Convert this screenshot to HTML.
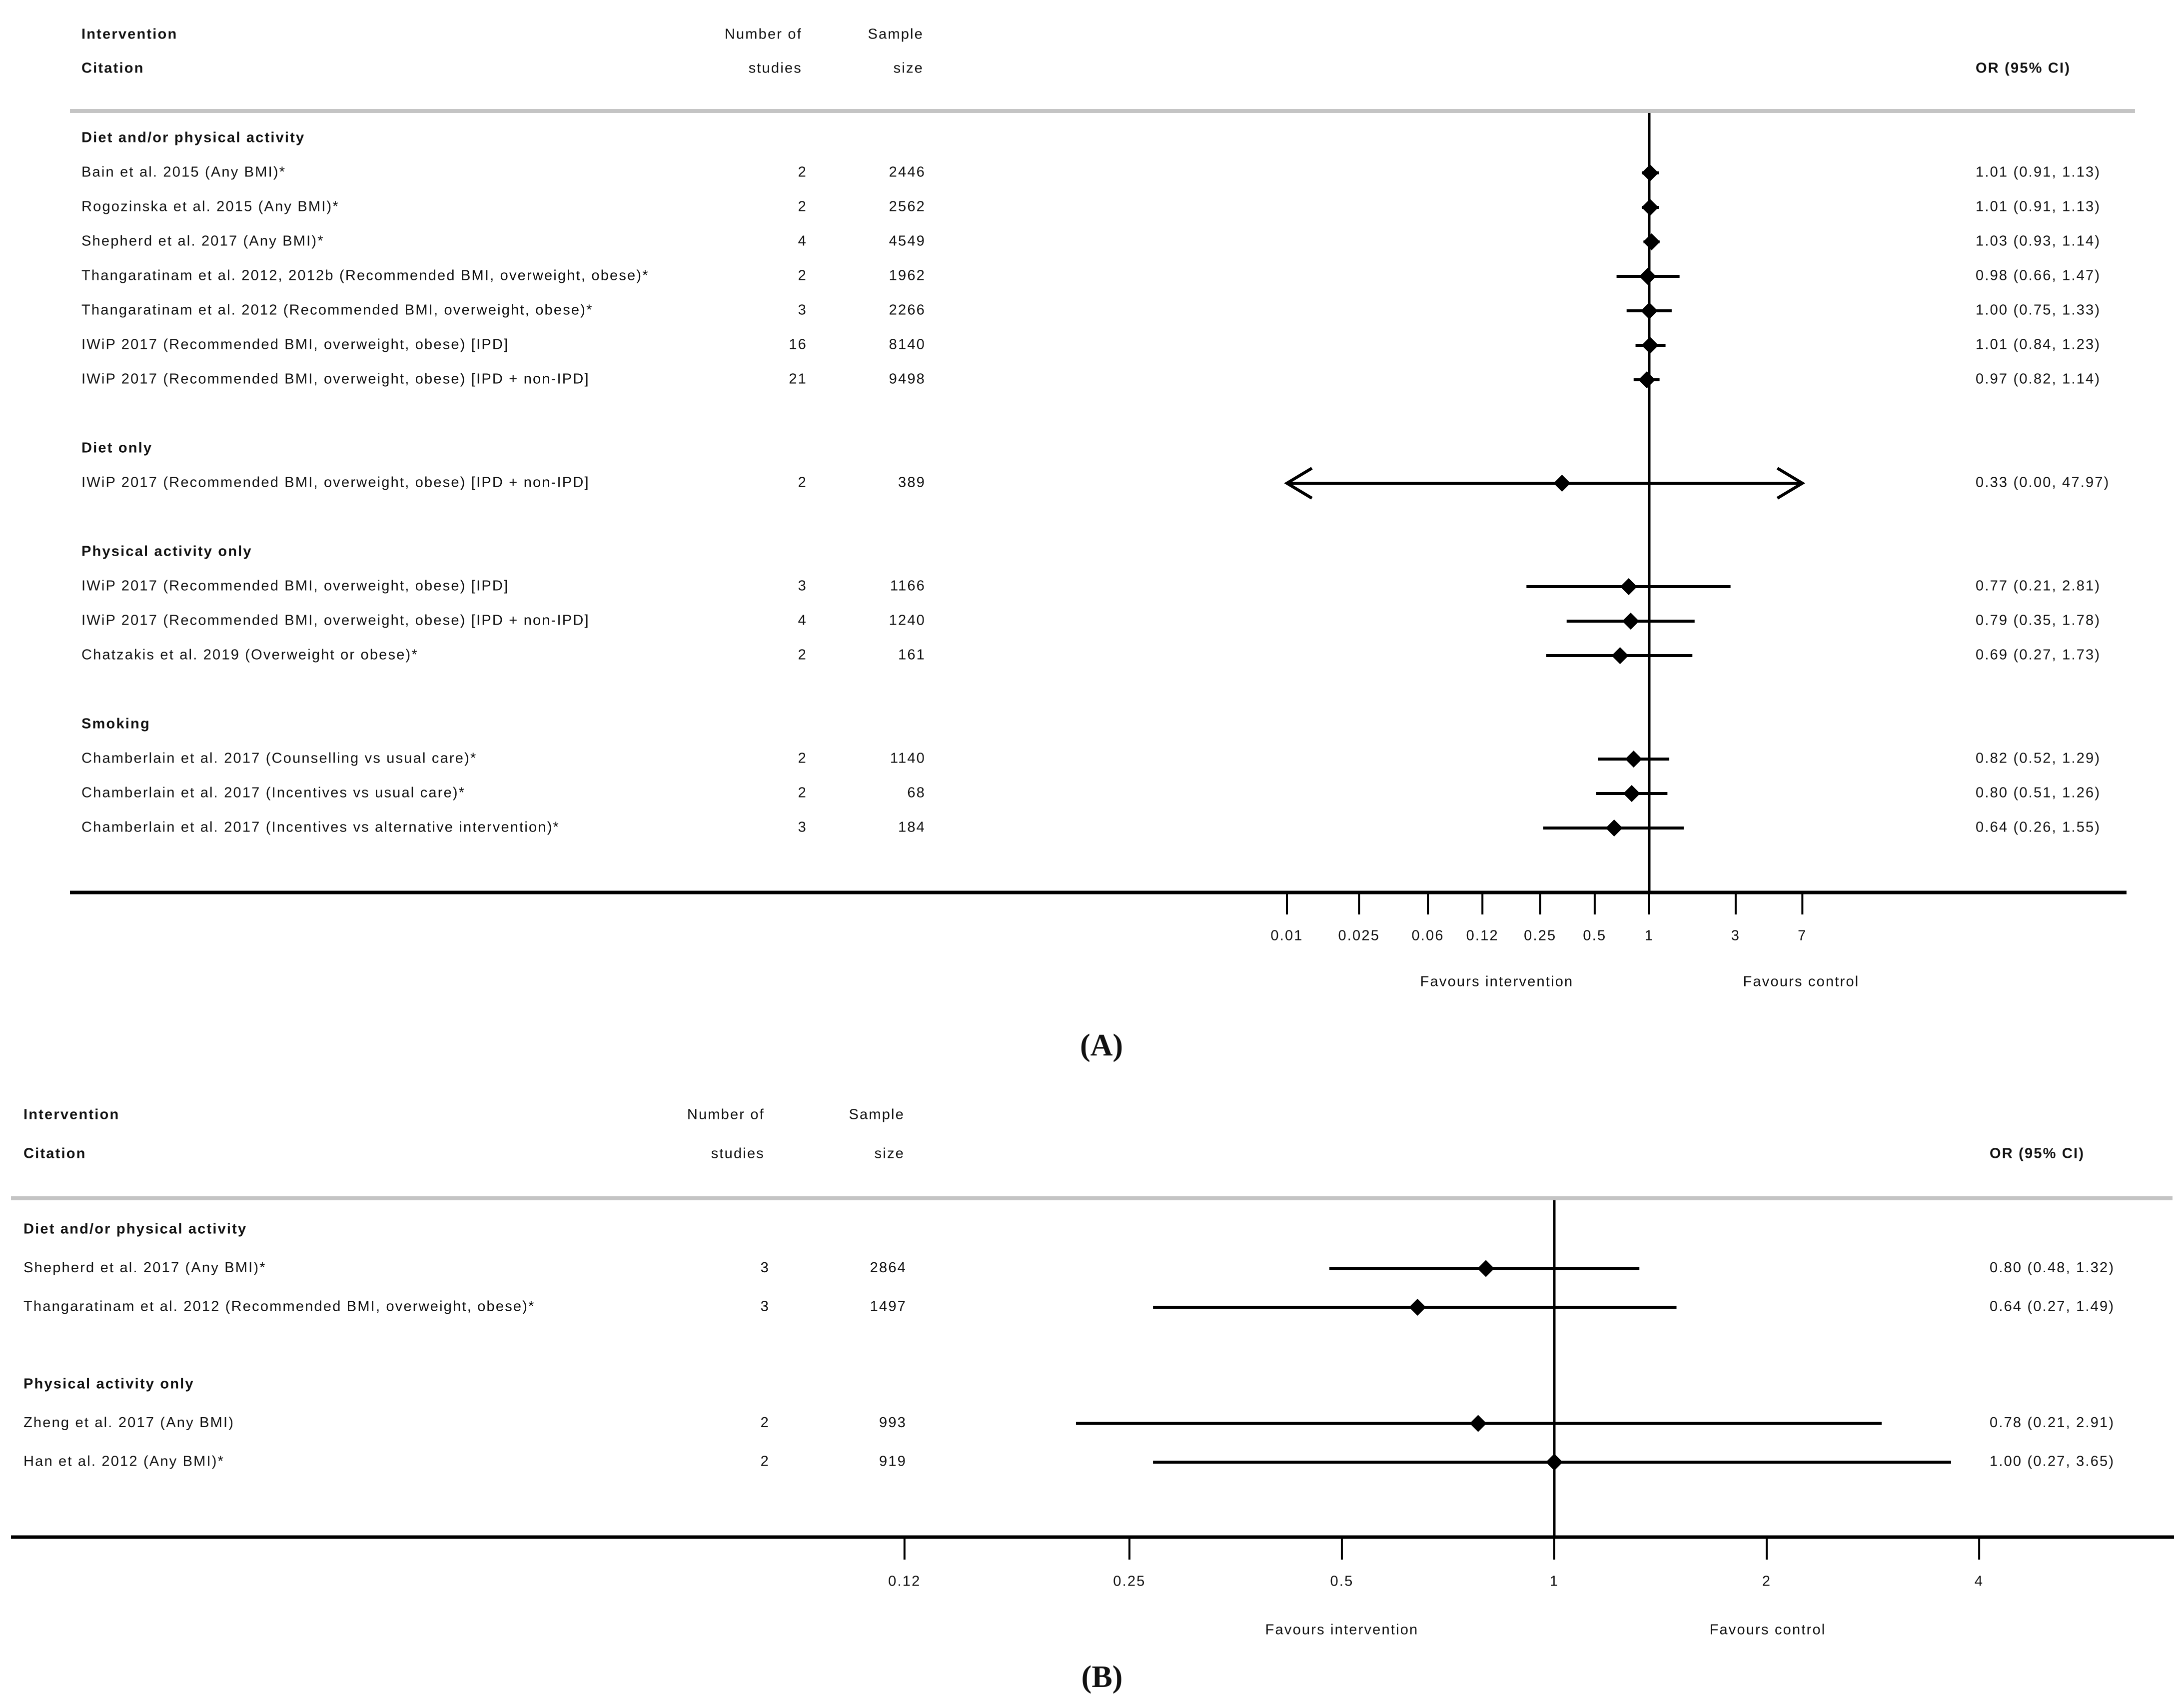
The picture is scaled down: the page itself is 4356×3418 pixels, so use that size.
<!DOCTYPE html>
<html><head><meta charset="utf-8">
<style>
html,body{margin:0;padding:0;background:#fff;}
svg{display:block;}
text{font-family:"Liberation Sans",Arial,sans-serif;font-size:29px;fill:#111;letter-spacing:2.2px;}
.b{font-weight:bold;}
</style></head>
<body>
<svg id="chart" width="4356" height="3418" viewBox="0 0 4356 3418" xmlns="http://www.w3.org/2000/svg">
<g id="gA"></g>
<g id="gB"></g>
</svg>
<script>
// ---------- Panel A data ----------
const aHeadings = ["Diet and/or physical activity","Diet only","Physical activity only","Smoking"];
const aHeadingRow = [0, 9, 12, 17];
const aRowIndex = [1,2,3,4,5,6,7,10,13,14,15,18,19,20];
const aLabels = [
 "Bain  et al. 2015 (Any BMI)*",
 "Rogozinska et al. 2015 (Any BMI)*",
 "Shepherd et al. 2017 (Any BMI)*",
 "Thangaratinam et al. 2012, 2012b (Recommended BMI, overweight, obese)*",
 "Thangaratinam et al. 2012 (Recommended BMI, overweight, obese)*",
 "IWiP 2017 (Recommended BMI, overweight, obese) [IPD]",
 "IWiP 2017 (Recommended BMI, overweight, obese) [IPD + non-IPD]",
 "IWiP 2017 (Recommended BMI, overweight, obese) [IPD + non-IPD]",
 "IWiP 2017 (Recommended BMI, overweight, obese) [IPD]",
 "IWiP 2017 (Recommended BMI, overweight, obese) [IPD + non-IPD]",
 "Chatzakis et al. 2019 (Overweight or obese)*",
 "Chamberlain et al. 2017 (Counselling vs usual care)*",
 "Chamberlain et al. 2017 (Incentives vs usual care)*",
 "Chamberlain et al. 2017 (Incentives vs alternative intervention)*"];
const aStudies = [2,2,4,2,3,16,21,2,3,4,2,2,2,3];
const aSizes = [2446,2562,4549,1962,2266,8140,9498,389,1166,1240,161,1140,68,184];
const aOR = [1.01,1.01,1.03,0.98,1.00,1.01,0.97,0.33,0.77,0.79,0.69,0.82,0.80,0.64];
const aLo = [0.91,0.91,0.93,0.66,0.75,0.84,0.82,0.00,0.21,0.35,0.27,0.52,0.51,0.26];
const aHi = [1.13,1.13,1.14,1.47,1.33,1.23,1.14,47.97,2.81,1.78,1.73,1.29,1.26,1.55];
const aTicks = [0.01,0.025,0.06,0.12,0.25,0.5,1,3,7];
const aTickLabels = ["0.01","0.025","0.06","0.12","0.25","0.5","1","3","7"];

// ---------- Panel B data ----------
const bHeadings = ["Diet and/or physical activity","Physical activity only"];
const bHeadingRow = [0, 4];
const bRowIndex = [1,2,5,6];
const bLabels = [
 "Shepherd et al. 2017 (Any BMI)*",
 "Thangaratinam et al. 2012 (Recommended BMI, overweight, obese)*",
 "Zheng et al. 2017 (Any BMI)",
 "Han et al. 2012 (Any BMI)*"];
const bStudies = [3,3,2,2];
const bSizes = [2864,1497,993,919];
const bOR = [0.80,0.64,0.78,1.00];
const bLo = [0.48,0.27,0.21,0.27];
const bHi = [1.32,1.49,2.91,3.65];
const bTicks = [0.12,0.25,0.5,1,2,4];
const bTickLabels = ["0.12","0.25","0.5","1","2","4"];

const NS="http://www.w3.org/2000/svg";
function mk(parent,tag,attrs,txt){
  const e=document.createElementNS(NS,tag);
  for(const k in attrs) e.setAttribute(k,attrs[k]);
  if(txt!==undefined) e.textContent=txt;
  parent.appendChild(e); return e;
}
function fmt(v){return v.toFixed(2);}

function panel(g,cfg){
  const x = v => cfg.x1 + cfg.perDec*Math.log10(v);
  const y = i => cfg.rowY0 + cfg.step*i;
  let t;
  t=mk(g,'text',{x:cfg.textX,y:cfg.h1,class:'b','dominant-baseline':'middle'},'Intervention');
  
  
  t=mk(g,'text',{x:cfg.textX,y:cfg.h2,class:'b','dominant-baseline':'middle'},'Citation');
  
  
  t=mk(g,'text',{x:cfg.nX,y:cfg.h1,'text-anchor':'end','dominant-baseline':'middle'},'Number of');
  
  
  t=mk(g,'text',{x:cfg.nX,y:cfg.h2,'text-anchor':'end','dominant-baseline':'middle'},'studies');
  
  
  t=mk(g,'text',{x:cfg.sX,y:cfg.h1,'text-anchor':'end','dominant-baseline':'middle'},'Sample');
  
  
  t=mk(g,'text',{x:cfg.sX,y:cfg.h2,'text-anchor':'end','dominant-baseline':'middle'},'size');
  
  
  t=mk(g,'text',{x:cfg.orX,y:cfg.h2,class:'b','dominant-baseline':'middle'},'OR (95% CI)');
  
  
  let l=mk(g,'line',{x1:cfg.gx1,x2:cfg.gx2,y1:cfg.greyY,y2:cfg.greyY,stroke:'#c4c4c4','stroke-width':8});
  
  
  cfg.headings.forEach((h,i)=>{
    const e=mk(g,'text',{x:cfg.textX,y:y(cfg.headingRow[i]),class:'b','dominant-baseline':'middle'},h);
    
    
  });
  l=mk(g,'line',{x1:x(1),x2:x(1),y1:cfg.greyY+4,y2:cfg.axisY,stroke:'#000','stroke-width':5});
  
  
  const minV=cfg.ticks[0], maxV=cfg.ticks[cfg.ticks.length-1];
  cfg.labels.forEach((lab,i)=>{
    const yy=y(cfg.rowIndex[i]);
    let e=mk(g,'text',{x:cfg.textX,y:yy,'dominant-baseline':'middle'},lab);
    
    
    e=mk(g,'text',{x:cfg.nX+10,y:yy,'text-anchor':'end','dominant-baseline':'middle'},String(cfg.studies[i]));
    
    
    e=mk(g,'text',{x:cfg.sX+4,y:yy,'text-anchor':'end','dominant-baseline':'middle'},String(cfg.sizes[i]));
    
    
    e=mk(g,'text',{x:cfg.orX,y:yy,'dominant-baseline':'middle'},fmt(cfg.or[i])+' ('+fmt(cfg.lo[i])+', '+fmt(cfg.hi[i])+')');
    
    
    const clipL = cfg.lo[i] < minV, clipR = cfg.hi[i] > maxV;
    const xl = clipL ? x(minV) : x(cfg.lo[i]);
    const xr = clipR ? x(maxV) : x(cfg.hi[i]);
    e=mk(g,'line',{x1:xl,x2:xr,y1:yy,y2:yy,stroke:'#000','stroke-width':6});
    
    
    if(clipL){
      e=mk(g,'polyline',{points:`${xl+50},${yy-30} ${xl},${yy} ${xl+50},${yy+30}`,fill:'none',stroke:'#000','stroke-width':6});
      
      
    }
    if(clipR){
      e=mk(g,'polyline',{points:`${xr-50},${yy-30} ${xr},${yy} ${xr-50},${yy+30}`,fill:'none',stroke:'#000','stroke-width':6});
      
      
    }
    const cx=x(cfg.or[i]), d=17;
    e=mk(g,'polygon',{points:`${cx},${yy-d} ${cx+d},${yy} ${cx},${yy+d} ${cx-d},${yy}`,fill:'#000'});
    
    
  });
  l=mk(g,'line',{x1:cfg.ax1,x2:cfg.ax2,y1:cfg.axisY,y2:cfg.axisY,stroke:'#000','stroke-width':7});
  
  
  cfg.ticks.forEach((v,i)=>{
    let e=mk(g,'line',{x1:x(v),x2:x(v),y1:cfg.axisY,y2:cfg.axisY+cfg.tickLen,stroke:'#000','stroke-width':4});
    
    
    e=mk(g,'text',{x:x(v),y:cfg.tickLabelY,'text-anchor':'middle','dominant-baseline':'middle'},cfg.tickLabels[i]);
    
    
  });
  let e=mk(g,'text',{x:cfg.favIX,y:cfg.favY,'text-anchor':'middle','dominant-baseline':'middle'},'Favours intervention');
  
  
  e=mk(g,'text',{x:cfg.favCX,y:cfg.favY,'text-anchor':'middle','dominant-baseline':'middle'},'Favours control');
  
  
  e=mk(g,'text',{x:cfg.capX,y:cfg.capY,'text-anchor':'middle','dominant-baseline':'middle',style:'font-family:"Liberation Serif",serif;font-size:62px;font-weight:bold;letter-spacing:0;'},cfg.cap);
  
  
}

panel(document.getElementById('gA'),{
  x1:3300, perDec:362.5, rowY0:277, step:69,
  textX:163, nX:1605, sX:1848, orX:3953, h1:70, h2:138, greyY:222, gx1:140, gx2:4272,
  headings:aHeadings, headingRow:aHeadingRow, rowIndex:aRowIndex, labels:aLabels,
  studies:aStudies, sizes:aSizes, or:aOR, lo:aLo, hi:aHi,
  ticks:aTicks, tickLabels:aTickLabels, axisY:1786, ax1:140, ax2:4255, tickLen:44, tickLabelY:1874,
  favIX:2995, favCX:3604, favY:1966, cap:'(A)', capX:2204, capY:2098
});
panel(document.getElementById('gB'),{
  x1:3110, perDec:1412, rowY0:2461, step:77.5,
  textX:47, nX:1530, sX:1810, orX:3981, h1:2232, h2:2310, greyY:2398, gx1:22, gx2:4347,
  headings:bHeadings, headingRow:bHeadingRow, rowIndex:bRowIndex, labels:bLabels,
  studies:bStudies, sizes:bSizes, or:bOR, lo:bLo, hi:bHi,
  ticks:bTicks, tickLabels:bTickLabels, axisY:3076, ax1:22, ax2:4350, tickLen:45, tickLabelY:3166,
  favIX:2685, favCX:3537, favY:3263, cap:'(B)', capX:2205, capY:3362
});
</script>
</body></html>
